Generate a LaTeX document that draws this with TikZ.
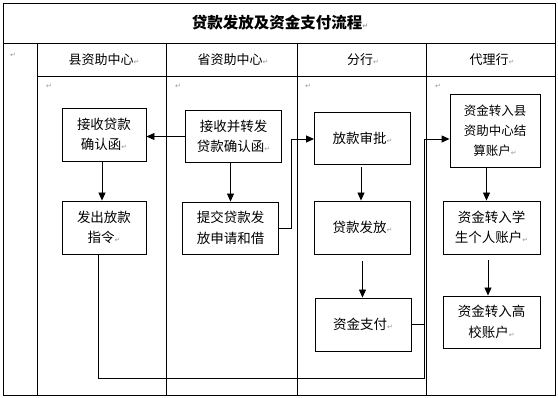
\documentclass[tikz,border=0pt]{standalone}
\usepackage{fontspec}
\setmainfont{Noto Sans CJK SC}
\newfontfamily\dejavu{DejaVu Sans}
\usetikzlibrary{arrows.meta}

\newcommand{\retmk}{{\color{black!40}\dejavu\fontsize{7}{7}\selectfont ↵}}

\tikzset{
  flowbox/.style={draw, align=center, inner sep=0pt, font=\fontsize{13.5}{20.5}\selectfont},
  hdr/.style={font=\fontsize{13}{15}\selectfont},
  mk/.style={inner sep=0pt, text=black!40, font=\dejavu\fontsize{7}{7}\selectfont},
  flow/.style={-{Triangle[length=8pt,width=7pt]}},
}

\begin{document}
\begin{tikzpicture}[x=1pt, y=-1pt, line width=0.9pt]
  \useasboundingbox (0,0) rectangle (558,398);
  % table
  \draw (3,3) rectangle (555,395);
  \draw (3,43.5) -- (555,43.5);
  \draw (37,76) -- (555,76);
  \foreach \x in {37,166,297,426}
    \draw (\x,43.5) -- (\x,395);
  \node[font=\bfseries\fontsize{15.5}{17}\selectfont] (title) at (280,23) {贷款发放及资金支付流程\retmk};
  \node[hdr] (hcounty) at (104,60) {县资助中心\retmk};
  \node[hdr] (hprov) at (233,60) {省资助中心\retmk};
  \node[hdr] (hbranch) at (363,60) {分行\retmk};
  \node[hdr] (hagent) at (492,60) {代理行\retmk};
  \node[mk] (m0) at (13,55) {↵};
  \foreach \x/\n in {49/m1,178/m2,308/m3,438/m4}
    \node[mk] (\n) at (\x,86) {↵};

  % boxes
  \node[flowbox, minimum width=84pt, minimum height=53pt] (recv) at (104,134.5) {接收贷款\\确认函\retmk};
  \node[flowbox, minimum width=84pt, minimum height=53pt] (order) at (104,227.5) {发出放款\\指令\retmk};
  \node[flowbox, minimum width=96pt, minimum height=52pt] (fwd) at (233.5,136.5) {接收并转发\\贷款确认函\retmk};
  \node[flowbox, minimum width=96pt, minimum height=52pt] (submit) at (230.5,228) {提交贷款发\\放申请和借};
  \node[flowbox, minimum width=96pt, minimum height=52pt] (approve) at (362.5,138) {放款审批\retmk};
  \node[flowbox, minimum width=96pt, minimum height=53pt] (issue) at (362.5,227.5) {贷款发放\retmk};
  \node[flowbox, minimum width=96pt, minimum height=53pt] (pay) at (363,324.5) {资金支付\retmk};
  \node[flowbox, minimum width=90pt, minimum height=73pt, font=\fontsize{12.5}{20}\selectfont] (agent1) at (495,130.5) {资金转入县\\资助中心结\\算账户\retmk};
  \node[flowbox, minimum width=97pt, minimum height=53pt] (student) at (491.5,227.5) {资金转入学\\生个人账户\retmk};
  \node[flowbox, minimum width=97pt, minimum height=52pt] (school) at (491.5,322) {资金转入高\\校账户\retmk};

  % connectors
  \coordinate (bend1) at (291,139);
  \coordinate (bend2) at (424,139);
  \coordinate (bend3) at (424,378);
  \draw[flow] (fwd.west) -- (fwd.west -| recv.east);
  \draw[flow] ([xshift=-2pt]recv.south) -- ([xshift=-2pt]order.north);
  \draw[flow] (submit.north |- fwd.south) -- (submit.north);
  \draw[flow] (submit.east) -| (bend1) -- (bend1 -| approve.west);
  \draw[flow, shorten <=3pt] ([xshift=-1.5pt]approve.south) -- ([xshift=-1.5pt]issue.north);
  \draw[flow, shorten <=7pt] (issue.south) -- (issue.south |- pay.north);
  \draw ([xshift=-6pt]order.south) |- (bend3) -- (bend2);
  \draw (pay.east) -- (pay.east -| bend2);
  \draw[flow] (bend2) -- (bend2 -| agent1.west);
  \draw[flow] ([xshift=-8.5pt]agent1.south) -- ([xshift=-8.5pt]agent1.south |- student.north);
  \draw[flow, shorten <=6pt] ([xshift=-3.5pt]student.south) -- ([xshift=-3.5pt]student.south |- school.north);
\end{tikzpicture}
\end{document}
